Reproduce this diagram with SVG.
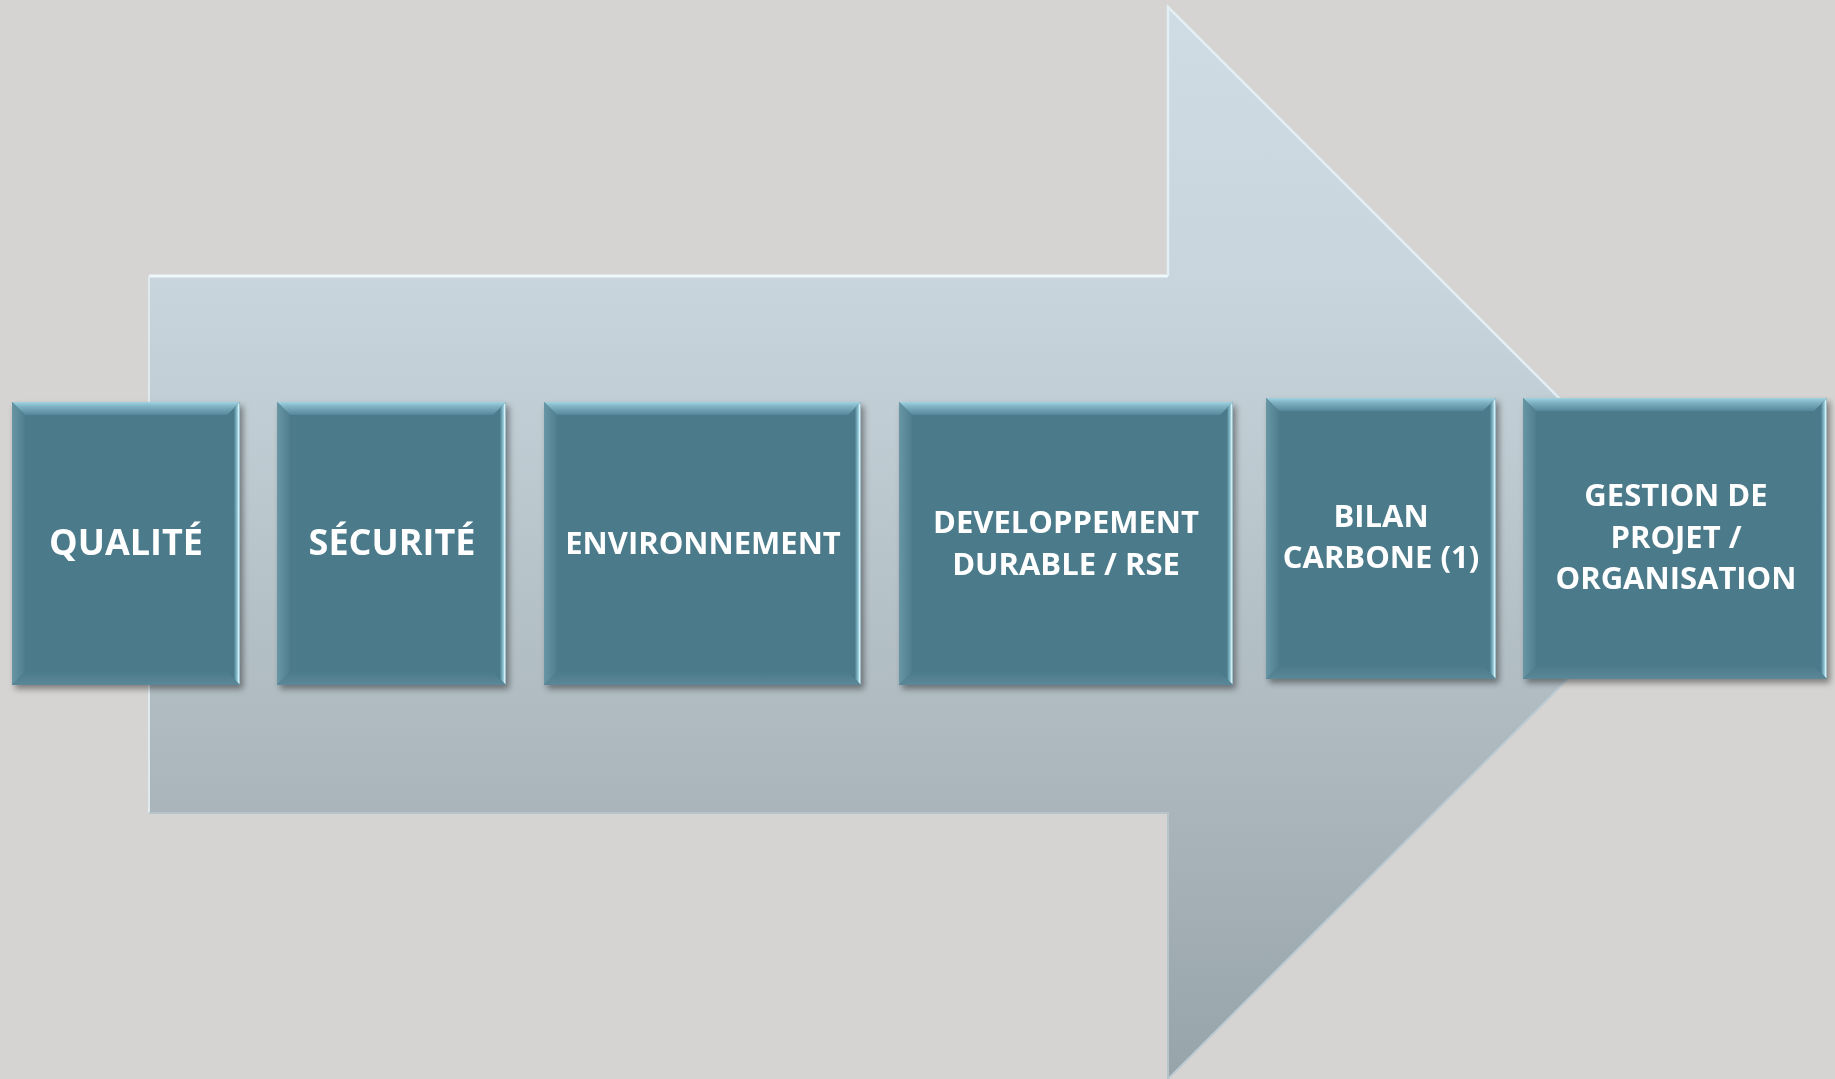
<svg xmlns="http://www.w3.org/2000/svg" width="1835" height="1079" viewBox="0 0 1835 1079">
<defs>
  <linearGradient id="arrowGrad" x1="0" y1="0" x2="0" y2="1079" gradientUnits="userSpaceOnUse">
    <stop offset="0" stop-color="#cfdce3"/>
    <stop offset="0.26" stop-color="#c8d5dc"/>
    <stop offset="0.75" stop-color="#a9b5bb"/>
    <stop offset="1" stop-color="#97a4aa"/>
  </linearGradient>
  <linearGradient id="topBevel" x1="0" y1="0" x2="0" y2="1">
    <stop offset="0" stop-color="#9fd3e2"/>
    <stop offset="0.35" stop-color="#7fb2c2"/>
    <stop offset="1" stop-color="#55879a"/>
  </linearGradient>
  <linearGradient id="rightBevel" x1="0" y1="0" x2="1" y2="0">
    <stop offset="0" stop-color="#4f7f8f"/>
    <stop offset="0.55" stop-color="#8fc7d6"/>
    <stop offset="0.8" stop-color="#e6fbff"/>
    <stop offset="1" stop-color="#6e98a6"/>
  </linearGradient>
  <linearGradient id="leftBevel" x1="0" y1="0" x2="1" y2="0">
    <stop offset="0" stop-color="#6896a5"/>
    <stop offset="1" stop-color="#4f7e8e"/>
  </linearGradient>
  <linearGradient id="bottomBevel" x1="0" y1="0" x2="0" y2="1">
    <stop offset="0" stop-color="#4c7b8b"/>
    <stop offset="1" stop-color="#5b8898"/>
  </linearGradient>
  <filter id="shadow" x="-10%" y="-10%" width="125%" height="125%">
    <feDropShadow dx="3" dy="4" stdDeviation="3" flood-color="#000" flood-opacity="0.4"/>
  </filter>
</defs>
<style>
  .face { fill: #4b7a8a; }
  .lbl { font-family: "Open Sans", "Liberation Sans", sans-serif; font-weight: bold; fill: #ffffff; text-anchor: middle; }
  .big { font-size: 36px; }
  .med { font-size: 31px; }
</style>

<rect x="0" y="0" width="1835" height="1079" fill="#d5d4d2"/>

<g id="arrow">
  <polygon points="149,276 1168,276 1168,7 1704,543 1168,1079 1168,813 149,813" fill="url(#arrowGrad)"/>
  <polyline points="149,276 1168,276" fill="none" stroke="#eef8fb" stroke-width="3"/>
  <polyline points="149,813 149,276" fill="none" stroke="#dfeaef" stroke-width="2"/>
  <polyline points="1168,276 1168,7 1704,543" fill="none" stroke="#e2eff4" stroke-width="2.5"/>
  <polyline points="1704,543 1168,1079" fill="none" stroke="#bccbd2" stroke-width="2"/>
  <polyline points="1168,1079 1168,813 149,813" fill="none" stroke="#b7c4ca" stroke-width="2"/>
</g>

<g id="node-qualite" filter="url(#shadow)">
  <rect class="face" x="12" y="402" width="228" height="283"/>
  <polygon points="12,402 240,402 227,415 25,415" fill="url(#topBevel)"/>
  <polygon points="12,402 25,415 25,672 12,685" fill="url(#leftBevel)"/>
  <polygon points="240,402 240,685 234,679 234,408" fill="url(#rightBevel)"/>
  <polygon points="12,685 25,672 227,672 240,685" fill="url(#bottomBevel)"/>
  <text class="lbl big" x="126" y="555">QUALITÉ</text>
</g>

<g id="node-securite" filter="url(#shadow)">
  <rect class="face" x="277" y="402" width="229" height="283"/>
  <polygon points="277,402 506,402 493,415 290,415" fill="url(#topBevel)"/>
  <polygon points="277,402 290,415 290,672 277,685" fill="url(#leftBevel)"/>
  <polygon points="506,402 506,685 500,679 500,408" fill="url(#rightBevel)"/>
  <polygon points="277,685 290,672 493,672 506,685" fill="url(#bottomBevel)"/>
  <text class="lbl big" x="392" y="555">SÉCURITÉ</text>
</g>

<g id="node-environnement" filter="url(#shadow)">
  <rect class="face" x="544" y="402" width="317" height="283"/>
  <polygon points="544,402 861,402 848,415 557,415" fill="url(#topBevel)"/>
  <polygon points="544,402 557,415 557,672 544,685" fill="url(#leftBevel)"/>
  <polygon points="861,402 861,685 855,679 855,408" fill="url(#rightBevel)"/>
  <polygon points="544,685 557,672 848,672 861,685" fill="url(#bottomBevel)"/>
  <text class="lbl med" x="703" y="554">ENVIRONNEMENT</text>
</g>

<g id="node-developpement" filter="url(#shadow)">
  <rect class="face" x="899" y="402" width="334" height="283"/>
  <polygon points="899,402 1233,402 1220,415 912,415" fill="url(#topBevel)"/>
  <polygon points="899,402 912,415 912,672 899,685" fill="url(#leftBevel)"/>
  <polygon points="1233,402 1233,685 1227,679 1227,408" fill="url(#rightBevel)"/>
  <polygon points="899,685 912,672 1220,672 1233,685" fill="url(#bottomBevel)"/>
  <text class="lbl med" x="1066" y="533">DEVELOPPEMENT</text>
  <text class="lbl med" x="1066" y="575">DURABLE / RSE</text>
</g>

<g id="node-bilan" filter="url(#shadow)">
  <rect class="face" x="1266" y="398" width="230" height="281"/>
  <polygon points="1266,398 1496,398 1483,411 1279,411" fill="url(#topBevel)"/>
  <polygon points="1266,398 1279,411 1279,666 1266,679" fill="url(#leftBevel)"/>
  <polygon points="1496,398 1496,679 1490,673 1490,404" fill="url(#rightBevel)"/>
  <polygon points="1266,679 1279,666 1483,666 1496,679" fill="url(#bottomBevel)"/>
  <text class="lbl med" x="1381" y="527">BILAN</text>
  <text class="lbl med" x="1381" y="568">CARBONE (1)</text>
</g>

<g id="node-gestion" filter="url(#shadow)">
  <rect class="face" x="1523" y="398" width="304" height="281"/>
  <polygon points="1523,398 1827,398 1814,411 1536,411" fill="url(#topBevel)"/>
  <polygon points="1523,398 1536,411 1536,666 1523,679" fill="url(#leftBevel)"/>
  <polygon points="1827,398 1827,679 1821,673 1821,404" fill="url(#rightBevel)"/>
  <polygon points="1523,679 1536,666 1814,666 1827,679" fill="url(#bottomBevel)"/>
  <text class="lbl med" x="1676" y="506">GESTION DE</text>
  <text class="lbl med" x="1676" y="548">PROJET /</text>
  <text class="lbl med" x="1676" y="589">ORGANISATION</text>
</g>

<g id="connectors"/>
</svg>
